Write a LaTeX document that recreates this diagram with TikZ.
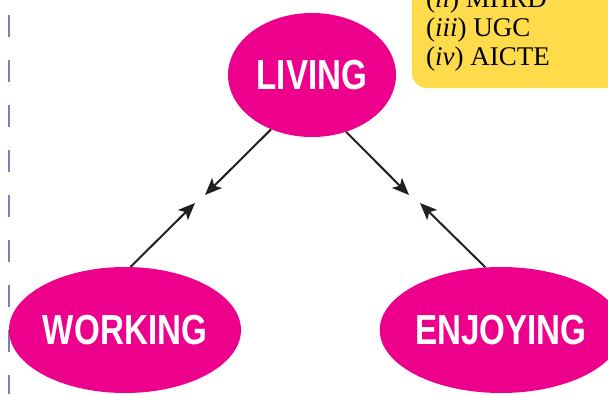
\documentclass[tikz,border=0pt]{standalone}
\usepackage{fontspec}
\setmainfont{Liberation Serif}
\newfontfamily\bubblefont[FakeStretch=0.79]{Liberation Sans}
\usetikzlibrary{shapes.geometric,arrows.meta}
\definecolor{bubblepink}{RGB}{236,0,140}
\definecolor{notebox}{RGB}{254,219,74}
\definecolor{marginline}{RGB}{125,125,185}
\definecolor{arrowink}{RGB}{35,31,32}

\begin{document}
\begin{tikzpicture}[x=1pt,y=-1pt,
  bubble/.style={ellipse, fill=bubblepink, text=white, inner sep=0pt, font=\bubblefont\bfseries\fontsize{42}{42}\selectfont},
  link/.style={draw=arrowink, line width=2pt, -{Stealth[length=17pt,width=14pt,inset=4pt]}},
  noteline/.style={anchor=base west, inner sep=0pt, font=\fontsize{27}{29}\selectfont}]
\useasboundingbox (0,0) rectangle (608,394);
\clip (0,0) rectangle (608,394);
% margin rule
\draw[marginline, line width=1.3pt, dash pattern=on 22pt off 23pt] (9,15) -- (9,394);
% note box
\fill[notebox, rounded corners=15pt] (412,-30) rectangle (640,88);
\node[noteline] (n2) at (426,7) {(\textit{ii}) MHRD};
\node[noteline] (n3) at (426,36) {(\textit{iii}) UGC};
\node[noteline] (n4) at (426,65) {(\textit{iv}) AICTE};
% bubbles
\node[bubble, minimum width=168pt, minimum height=124pt] (living) at (312,75) {LIVING};
\node[bubble, minimum width=228pt, minimum height=126pt] (working) at (125,330) {WORKING};
\node[bubble, minimum width=228pt, minimum height=126pt] (enjoying) at (501,330) {ENJOYING};
\coordinate (tipLa) at (205,195);
\coordinate (tipLb) at (195,203);
\coordinate (tipRa) at (409,195);
\coordinate (tipRb) at (420,203);
\draw[link] (living.233) -- (tipLa);
\draw[link] (living.301) -- (tipRa);
\draw[link] (working.85) -- (tipLb);
\draw[link] (enjoying.104) -- (tipRb);
\end{tikzpicture}
\end{document}
